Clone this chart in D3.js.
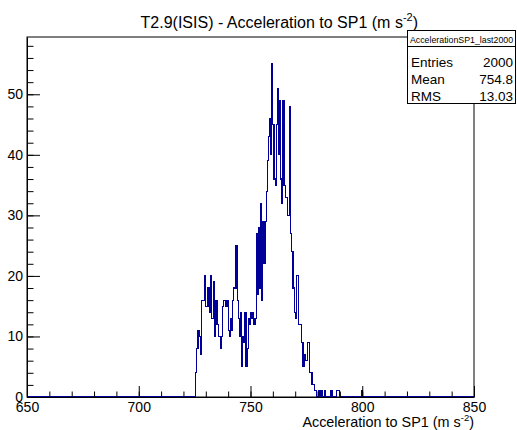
<!DOCTYPE html>
<html>
<head>
<meta charset="utf-8">
<script src="https://cdn.jsdelivr.net/npm/d3@7"></script>
<style>
  html, body { margin: 0; padding: 0; background: #fff; }
  svg text { font-family: "Liberation Sans", Arial, Helvetica, sans-serif; }
</style>
</head>
<body>
<svg id="chart" width="517" height="430"></svg>
<script>
// ---- data ----
const histName = "AccelerationSP1_last2000";
const titleMain = "T2.9(ISIS) - Acceleration to SP1 (m s";
const axisTitle = "Acceleration to SP1 (m s";
const xRange = [650, 850];
const xMajorTicks = [650, 700, 750, 800, 850];
const yMajorTicks = [0, 10, 20, 30, 40, 50];
const binWidth = 0.5;
const firstBinLow = 725.0;
// counts of the bins starting at 725.0, 725.5, 726.0, ... (width 0.5)
const counts = [
  0, 4, 8, 11, 10, 7, 16, 16, 16, 20,      // 725.0 - 729.5
  15, 15, 18, 14, 20, 13, 13, 19, 10, 16,  // 730.0 - 734.5
  12, 10, 10, 8, 10, 15, 16, 16, 15, 16,   // 735.0 - 739.5
  11, 10, 13, 11, 16, 18, 18, 25, 16, 13,  // 740.0 - 744.5
  10, 14, 5, 10, 9, 14, 5, 8, 13, 12,      // 745.0 - 749.5
  14, 13, 14, 12, 13, 27, 17, 28, 18, 32,  // 750.0 - 754.5
  16, 29, 22, 29, 34, 39, 43, 46, 40, 55,  // 755.0 - 759.5
  45, 36, 35, 45, 51, 40, 49, 36, 32, 49,  // 760.0 - 764.5
  35, 33, 33, 30, 30, 48, 27, 24, 18, 14,  // 765.0 - 769.5
  13, 20, 20, 12, 12, 12, 9, 5, 7, 6,      // 770.0 - 774.5
  6, 9, 9, 4, 4, 2, 2, 1, 1, 0,            // 775.0 - 779.5
  0, 1, 0, 1, 0, 0, 1, 0, 0, 0,            // 780.0 - 784.5
  0, 0, 1, 0, 0, 0, 0, 1, 1, 1,            // 785.0 - 789.5
  0, 0, 0, 0, 0, 0, 0, 0, 0, 0,            // 790.0 - 794.5
  0, 0, 0, 0, 0, 0, 0, 0, 0, 1             // 795.0 - 799.5
];
const statsLabels = ["Entries", "Mean", "RMS"];
const statsValues = ["2000", "754.8", "13.03"];

// ---- layout ----
const svg = d3.select("#chart");
const L = 27, R = 474, T = 37, B = 397;
const x = d3.scaleLinear().domain(xRange).range([L, R]);
const y = d3.scaleLinear().domain([0, 59.46]).range([B, T]);

// histogram outline
const pts = [[xRange[0], 0]];
counts.forEach((c, i) => pts.push([firstBinLow + i * binWidth, c]));
pts.push([firstBinLow + counts.length * binWidth, 0]);
pts.push([xRange[1], 0]);
const line = d3.line().x(d => x(d[0])).y(d => y(d[1])).curve(d3.curveStepAfter);

// frame
svg.append("rect").attr("x", L).attr("y", T).attr("width", R - L).attr("height", B - T)
  .attr("fill", "none").attr("stroke", "#000").attr("stroke-width", 1);

svg.append("path").datum(pts).attr("d", line)
  .attr("fill", "none").attr("stroke", "#000099").attr("stroke-width", 1.1)
  .attr("shape-rendering", "crispEdges");

// x axis
const xMinor = d3.range(650, 851, 10);
svg.append("g").attr("transform", `translate(0,${B})`)
  .call(d3.axisBottom(x).tickValues(xMinor).tickSize(-5.5).tickSizeOuter(0).tickFormat(""))
  .call(g => g.select(".domain").remove());
svg.append("g").attr("transform", `translate(0,${B})`)
  .call(d3.axisBottom(x).tickValues(xMajorTicks).tickSize(-11).tickSizeOuter(0).tickPadding(5).tickFormat(d3.format("d")))
  .call(g => g.select(".domain").attr("stroke", "#000"))
  .call(g => g.selectAll("text").attr("font-size", 14).attr("fill", "#000"));

// y axis
const yMinor = d3.range(0, 59, 2);
svg.append("g").attr("transform", `translate(${L},0)`)
  .call(d3.axisLeft(y).tickValues(yMinor).tickSize(-6.5).tickSizeOuter(0).tickFormat(""))
  .call(g => g.select(".domain").remove());
svg.append("g").attr("transform", `translate(${L},0)`)
  .call(d3.axisLeft(y).tickValues(yMajorTicks).tickSize(-13).tickSizeOuter(0).tickPadding(4).tickFormat(d3.format("d")))
  .call(g => g.select(".domain").attr("stroke", "#000"))
  .call(g => g.selectAll("text").attr("font-size", 14).attr("fill", "#000"));

// axis title
const at = svg.append("text").attr("x", R).attr("y", 427).attr("text-anchor", "end")
  .attr("font-size", 14.4).attr("fill", "#000");
at.append("tspan").text(axisTitle);
at.append("tspan").attr("font-size", 9.5).attr("dy", -6).text("-2");
at.append("tspan").attr("dy", 6).text(")");

// main title
const tt = svg.append("text").attr("x", 418).attr("y", 28).attr("text-anchor", "end")
  .attr("font-size", 16).attr("fill", "#000");
tt.append("tspan").text(titleMain);
tt.append("tspan").attr("font-size", 11).attr("dy", -7).text("-2");
tt.append("tspan").attr("dy", 7).text(")");

// stats box
const bx = 407.5, by = 30.5, bw = 108, bh = 73;
svg.append("rect").attr("x", bx).attr("y", by).attr("width", bw).attr("height", bh)
  .attr("fill", "#fff").attr("stroke", "#000").attr("stroke-width", 1);
svg.append("line").attr("x1", bx).attr("x2", bx + bw).attr("y1", 46.5).attr("y2", 46.5)
  .attr("stroke", "#000");
svg.append("text").attr("x", bx + bw / 2).attr("y", 42.5).attr("text-anchor", "middle")
  .attr("font-size", 8.8).attr("fill", "#000").text(histName);
const rowY = [66.5, 83.5, 100.5];
statsLabels.forEach((lab, i) => {
  svg.append("text").attr("x", 411).attr("y", rowY[i]).attr("font-size", 13.5).attr("fill", "#000").text(lab);
  svg.append("text").attr("x", 513).attr("y", rowY[i]).attr("text-anchor", "end")
    .attr("font-size", 13.5).attr("fill", "#000").text(statsValues[i]);
});
</script>
</body>
</html>
